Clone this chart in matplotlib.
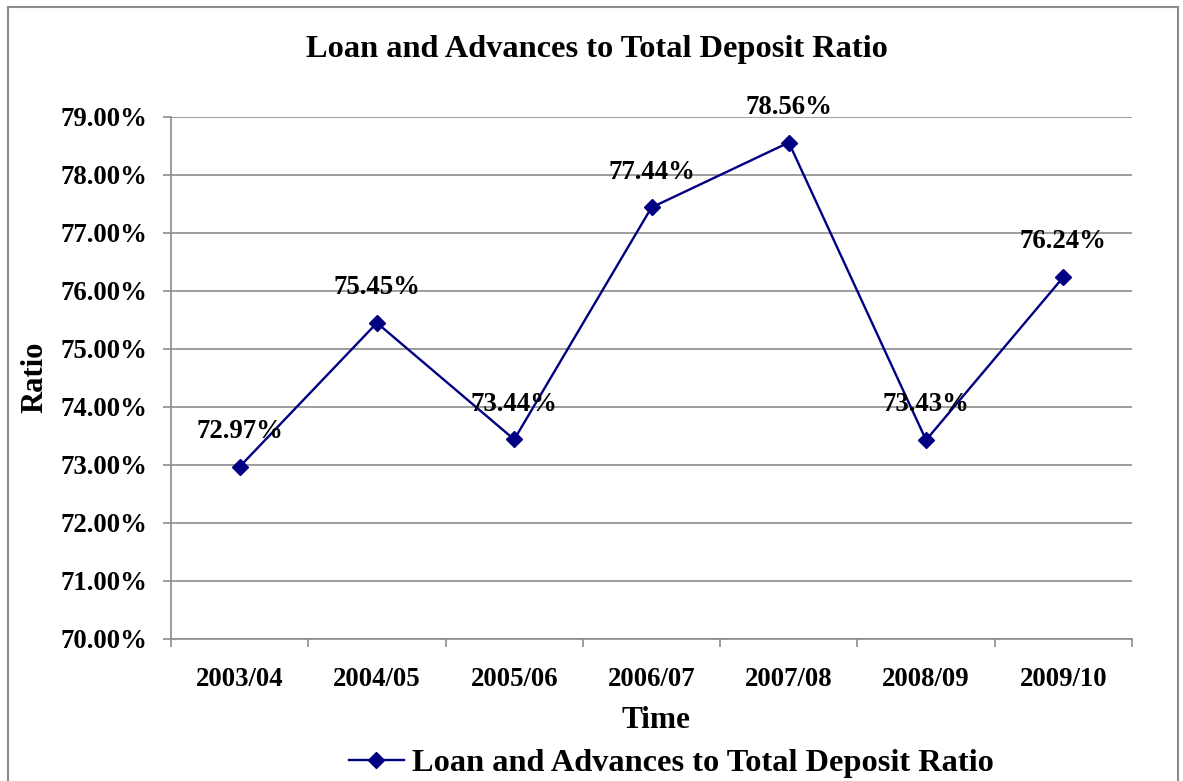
import matplotlib
matplotlib.use("Agg")
import matplotlib.pyplot as plt
from matplotlib.lines import Line2D
from matplotlib.ticker import FixedLocator, FuncFormatter

years = ["2003/04", "2004/05", "2005/06", "2006/07", "2007/08", "2008/09", "2009/10"]
ratios = [72.97, 75.45, 73.44, 77.44, 78.56, 73.43, 76.24]
y_ticks = [70, 71, 72, 73, 74, 75, 76, 77, 78, 79]
title = "Loan and Advances to Total Deposit Ratio"
series_name = "Loan and Advances to Total Deposit Ratio"

plt.rcParams['font.family'] = ['Liberation Serif', 'DejaVu Serif']
plt.rcParams['font.weight'] = 'bold'

W, H = 1183, 781
fig = plt.figure(figsize=(W / 100, H / 100), dpi=100)

def fx(px): return px / W
def fy(py): return 1 - py / H

ax = fig.add_axes([fx(171), fy(639), fx(1132) - fx(171), fy(117) - fy(639)])

grid_c = "#8c8c8c"
line_c = "#000080"
tick_fs = 19.3

x = list(range(len(years)))
ax.plot(x, ratios, color=line_c, lw=1.7, marker="D", ms=8, mfc=line_c, mec=line_c, zorder=3)
for xi, v in zip(x, ratios):
    ax.annotate(f"{v:.2f}%", (xi, v), xytext=(0, 25.5), textcoords="offset points",
                ha="center", va="center", fontsize=tick_fs, fontweight="bold")

ax.set_xlim(-0.5, len(years) - 0.5)
ax.set_ylim(70, 79)
ax.set_yticks(y_ticks)
ax.yaxis.set_major_formatter(FuncFormatter(lambda v, p: f"{v:.2f}%"))
ax.set_xticks(x)
ax.set_xticklabels(years)
ax.xaxis.set_minor_locator(FixedLocator([i - 0.5 for i in range(len(years) + 1)]))

ax.grid(axis="y", color=grid_c, lw=1.2)
ax.set_axisbelow(True)
for s in ["top", "right"]:
    ax.spines[s].set_visible(False)
for s in ["left", "bottom"]:
    ax.spines[s].set_color(grid_c)
    ax.spines[s].set_linewidth(1.2)

ax.tick_params(axis="y", length=6, width=1.2, color=grid_c, pad=11, labelsize=tick_fs)
ax.tick_params(axis="x", which="major", length=0, pad=20, labelsize=tick_fs)
ax.tick_params(axis="x", which="minor", length=6, width=1.2, color=grid_c)
for lab in ax.get_xticklabels() + ax.get_yticklabels():
    lab.set_fontweight("bold")

fig.text(fx(35), fy(377), "Ratio", rotation=90, ha="center", va="center", fontsize=22, fontweight="bold")
fig.text(fx(656), fy(721), "Time", ha="center", va="center", fontsize=22.5, fontweight="bold")
fig.text(fx(597), fy(50), title, ha="center", va="center", fontsize=23.3, fontweight="bold")

handle = Line2D([], [], color=line_c, lw=1.7, marker="D", ms=8, mfc=line_c, mec=line_c)
fig.legend([handle], [series_name], loc="center", bbox_to_anchor=(fx(671), fy(763)),
           frameon=False, prop={"size": 23.3, "weight": "bold"}, handlelength=1.7,
           handletextpad=0.25, borderpad=0)

border_c = "#8c8c8c"
fig.add_artist(Line2D([fx(8), fx(8)], [fy(7), 0], color=border_c, lw=1.5))
fig.add_artist(Line2D([fx(8), fx(1178)], [fy(7), fy(7)], color=border_c, lw=1.5))
fig.add_artist(Line2D([fx(1178), fx(1178)], [fy(7), 0], color=border_c, lw=1.5))

fig.savefig("out.png", dpi=100)
